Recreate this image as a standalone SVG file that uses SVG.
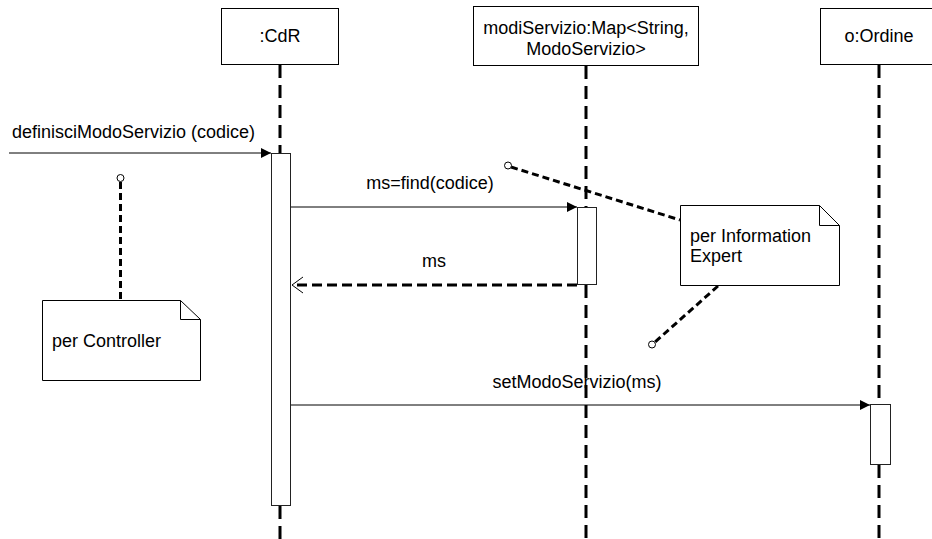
<svg xmlns="http://www.w3.org/2000/svg" width="932" height="539" viewBox="0 0 932 539">
  <defs>
    <style>
      text { font-family: "Liberation Sans", Arial, sans-serif; font-size: 18px; fill: #000; }
      .mid { text-anchor: middle; }
      .box { fill: #fff; stroke: #000; stroke-width: 1; }
      .life { fill: none; stroke: #000; stroke-width: 3; stroke-dasharray: 13 7; }
      .act { fill: #fff; stroke: #222; stroke-width: 1; }
      .msg { fill: none; stroke: #000; stroke-width: 1; }
      .ret { fill: none; stroke: #000; stroke-width: 3; stroke-dasharray: 10 5; }
      .anchor { fill: none; stroke: #000; stroke-width: 3; stroke-dasharray: 7 4; }
      .pin { fill: #fff; stroke: #000; stroke-width: 1; }
    </style>
    <marker id="solid" viewBox="0 0 10 10" refX="10" refY="5" markerWidth="10" markerHeight="10" markerUnits="userSpaceOnUse" orient="auto">
      <path d="M0,0 L10,5 L0,10 Z" fill="#000"/>
    </marker>
    <marker id="open" viewBox="0 0 12 18" refX="11" refY="9" markerWidth="12" markerHeight="18" markerUnits="userSpaceOnUse" orient="auto">
      <path d="M0,1 L11,9 L0,17" fill="none" stroke="#000" stroke-width="1"/>
    </marker>
  </defs>

  <!-- lifelines -->
  <g id="lifelines">
    <line class="life" x1="280" y1="65" x2="280" y2="153"/>
    <line class="life" x1="280" y1="506" x2="280" y2="539"/>
    <line class="life" x1="586" y1="66" x2="586" y2="207"/>
    <line class="life" x1="586" y1="285" x2="586" y2="539"/>
    <line class="life" x1="879" y1="65" x2="879" y2="404"/>
    <line class="life" x1="879" y1="465" x2="879" y2="539"/>
  </g>

  <!-- participants -->
  <g id="cdr">
    <rect class="box" x="221.5" y="8.5" width="117" height="56"/>
    <text class="mid" x="280" y="42">:CdR</text>
  </g>
  <g id="modiServizio">
    <rect class="box" x="473.5" y="6.5" width="225" height="59"/>
    <text class="mid" x="586" y="34">modiServizio:Map&lt;String,</text>
    <text class="mid" x="586" y="55">ModoServizio&gt;</text>
  </g>
  <g id="ordine">
    <rect class="box" x="820.5" y="8.5" width="118" height="56"/>
    <text class="mid" x="879" y="42">o:Ordine</text>
  </g>

  <!-- activations -->
  <g id="act-cdr"><rect class="act" x="271.5" y="153.5" width="19" height="352"/></g>
  <g id="act-modi"><rect class="act" x="577.5" y="207.5" width="19" height="77"/></g>
  <g id="act-ordine"><rect class="act" x="870.5" y="404.5" width="20" height="60"/></g>

  <!-- notes -->
  <g id="note-controller">
    <path class="box" d="M42.5,300.5 H180.5 L200.5,319.5 V380.5 H42.5 Z"/>
    <path class="msg" d="M180.5,300.5 V319.5 H200.5"/>
    <text x="52" y="347">per Controller</text>
  </g>
  <g id="note-expert">
    <path class="box" d="M680.5,205.5 H819.5 L839.5,225.5 V285.5 H680.5 Z"/>
    <path class="msg" d="M819.5,205.5 V225.5 H839.5"/>
    <text x="690" y="242">per Information</text>
    <text x="690" y="262">Expert</text>
  </g>

  <!-- connectors -->
  <g id="connectors">
    <line class="msg" x1="9" y1="153" x2="271" y2="153" marker-end="url(#solid)"/>
    <text x="12" y="138">definisciModoServizio (codice)</text>

    <line class="msg" x1="291" y1="207" x2="577" y2="207" marker-end="url(#solid)"/>
    <text class="mid" x="430" y="189">ms=find(codice)</text>

    <line class="ret" x1="577" y1="285" x2="292" y2="285" marker-end="url(#open)"/>
    <text class="mid" x="434" y="267">ms</text>

    <line class="msg" x1="291" y1="405" x2="870" y2="405" marker-end="url(#solid)"/>
    <text class="mid" x="577" y="388">setModoServizio(ms)</text>

    <line class="anchor" x1="120.5" y1="182" x2="120.5" y2="300"/>
    <circle class="pin" cx="120.5" cy="178" r="3.5"/>

    <line class="anchor" x1="511" y1="167" x2="680" y2="220"/>
    <circle class="pin" cx="508" cy="165.5" r="3.5"/>

    <line class="anchor" x1="718" y1="286" x2="655" y2="342"/>
    <circle class="pin" cx="652" cy="344.5" r="3.5"/>
  </g>
</svg>
